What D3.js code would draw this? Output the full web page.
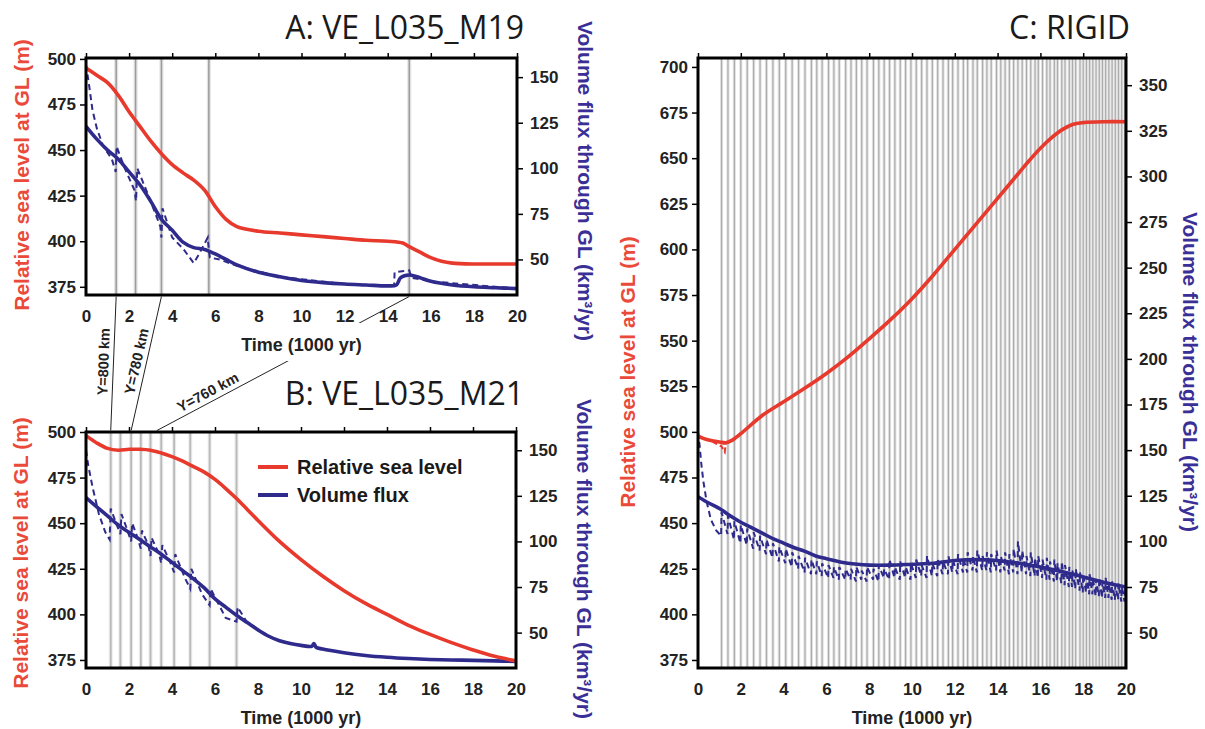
<!DOCTYPE html>
<html><head><meta charset="utf-8">
<script src="https://cdn.jsdelivr.net/npm/d3@7"></script>
<style>body{margin:0;background:#fff}</style>
</head><body>
<svg id="c" width="1205" height="729"></svg>
<script>
// ---------- axis ticks ----------
const xTicks = [0,2,4,6,8,10,12,14,16,18,20];
const seaTicksAB = [375,400,425,450,475,500];
const fluxTicksAB = [50,75,100,125,150];
const seaTicksC = [375,400,425,450,475,500,525,550,575,600,625,650,675,700];
const fluxTicksC = [50,75,100,125,150,175,200,225,250,275,300,325,350];
const fluxOffset = 340; // flux axis = sea-level axis - 340

// ---------- Panel A ----------
const timeAsea = [0,0.5,1,1.5,2,2.5,3,3.5,4,4.5,5,5.5,6,6.5,7,8,9,10,11,12,13,14,14.7,15,15.5,16,16.5,17,18,19,20];
const seaA = [495,491,487,480,471,463,455,448,442,437.5,433.5,428,419,412,408,405.5,404.5,403.5,402.5,401.5,400.5,400,399,397,394,391,389,388,387.5,387.5,387.5];
const timeAflux = [0,0.5,1,1.5,2,2.5,3,3.5,4,4.5,5,5.5,6,6.5,7,8,9,10,11,12,13,14,14.4,14.6,15,15.5,16,17,18,19,20];
const fluxA = [123,116,110,105,98,91,82,72,66,59.5,56.5,55.5,53,50,47,43,40.5,38.5,37.3,36.5,36,35.5,36,40,41.5,40,38,36,35,34.5,34];
const timeAdash = [0,0.15,0.3,0.5,0.8,1.2,1.38,1.42,1.8,2.25,2.32,2.38,2.9,3.45,3.5,3.55,4.0,4.5,5.0,5.2,5.65,5.7,5.75,6.2,7,9,12,14.2,14.3,14.32,15.0,15.1,16,20];
const fluxAdash = [157,145,132,122,112,105,98,112,100,88,82,100,85,68,62,78,62,56,48,52,62,55,51,50,46.5,40.5,36.5,35.5,36,43,44,40,38,34];
const glA = [1.4,2.3,3.5,5.7,15.0];

// ---------- Panel B ----------
const timeBsea = [0,0.5,1,1.5,2,2.5,3,3.5,4,4.5,5,5.5,6,6.5,7,7.5,8,9,10,11,12,13,14,15,16,17,18,19,20];
const seaB = [498,494,491,490,490.5,490.5,490,488.5,486.5,484,481,478,474,469,463.5,457.5,451.5,440,430,421,413,406,400,394,389,384.5,380.5,377,374.5];
const timeBflux = [0,0.5,1,1.5,2,2.5,3,3.5,4,4.5,5,5.5,6,6.5,7,7.5,8,8.5,9,9.5,10,10.5,10.6,10.7,11,12,13,14,15,16,17,18,19,20];
const fluxB = [124,119,114,109,105,101,97,93,88.5,84,79.5,74.5,68.5,64,59.5,55.5,51.5,48,45.5,44,43,42.5,44,42,41,39,37.5,36.5,35.8,35.3,35,34.8,34.5,34.2];
const timeBdash = [0,0.1,0.3,0.6,0.9,1.1,1.15,1.4,1.6,1.65,1.9,2.1,2.15,2.4,2.55,2.6,2.9,3.0,3.05,3.4,3.5,3.55,3.9,4.1,4.15,4.6,4.85,4.9,5.4,5.75,5.8,6.5,7.0,7.05,7.5,8];
const fluxBdash = [150,142,130,115,105,101,118,110,104,115,107,100,110,102,96,106,98,92,102,93,88,98,89,83,93,80,74,85,71,65,74,58,56,64,55.5,52];
const glB = [1.15,1.6,2.1,2.55,3.0,3.5,4.1,4.85,5.75,7.0];

// ---------- Panel C ----------
const timeCsea = [0,0.5,1,1.3,1.6,2,3,4,5,6,7,8,9,10,11,12,13,14,15,15.5,16,16.5,17,17.5,18,19,20];
const seaC = [497.5,495.5,494.5,494,495.5,499,509,516.5,524,532,541,551,561.5,573,586,600,614,628,642,649,655.5,661,665.5,668.5,669.5,670,670];
const timeCseaDash = [0,0.6,1.1,1.25,1.3,1.6,2];
const seaCdash = [498,495,492,489,494,495,499];
const timeCflux = [0,0.5,1,1.5,2,2.5,3,3.5,4,4.5,5,5.5,6,7,8,9,10,11,12,13,14,15,16,17,18,19,20];
const fluxC = [124.5,121,118,114,110.5,107.5,104.5,101.5,99,96.5,94.5,92,90.5,88,87,87,87.5,88,89.5,90,89.5,88,86,83.5,80.5,77.5,75];
const fluxCdash = [[0,160],[0.08,152],[0.15,143],[0.25,133],[0.4,122],[0.6,112],[0.85,106],[1.08,103],[1.1,116],[1.38,104],[1.4,114],[1.68,101],[1.7,111],[1.98,99],[2.0,109],[2.28,98],[2.3,107],[2.58,96],[2.6,105],[2.88,95],[2.9,103],[3.18,93],[3.2,101],[3.48,91],[3.5,99],[3.78,89],[3.8,97],[4.08,88],[4.1,96],[4.38,86],[4.4,94],[4.68,85],[4.7,92],[4.98,83],[5.0,91],[5.28,82],[5.3,90],[5.53,82],[5.55,89],[5.78,81],[5.8,88],[6.08,80],[6.1,87],[6.33,80],[6.35,86],[6.58,79],[6.6,86],[6.88,79],[6.9,85],[7.13,79],[7.15,85],[7.38,78],[7.4,86],[7.63,79],[7.65,84],[7.88,78],[7.9,86],[8.18,79],[8.2,85],[8.43,78],[8.45,87],[8.68,80],[8.7,85],[8.93,79],[8.95,90],[9.18,80],[9.2,86],[9.43,79],[9.45,89],[9.68,80],[9.7,86],[9.93,79],[9.95,88],[10.18,80],[10.2,90],[10.43,81],[10.45,87],[10.68,80],[10.7,92],[10.93,81],[10.95,88],[11.18,81],[11.2,90],[11.43,82],[11.45,89],[11.68,82],[11.7,92],[11.88,83],[11.9,90],[12.13,82],[12.15,93],[12.38,83],[12.4,91],[12.58,83],[12.6,94],[12.83,84],[12.85,92],[13.03,83],[13.05,95],[13.28,84],[13.3,92],[13.48,84],[13.5,94],[13.68,83],[13.7,93],[13.93,84],[13.95,95],[14.13,83],[14.15,92],[14.33,84],[14.35,94],[14.53,82],[14.55,93],[14.73,83],[14.75,96],[14.93,82],[14.95,100],[15.13,83],[15.15,95],[15.33,82],[15.35,92],[15.53,81],[15.55,94],[15.73,81],[15.75,91],[15.88,80],[15.9,92],[16.08,80],[16.1,90],[16.28,79],[16.3,91],[16.43,79],[16.45,89],[16.63,78],[16.65,90],[16.78,78],[16.8,88],[16.98,77],[17.0,89],[17.13,76],[17.15,87],[17.33,75],[17.35,86],[17.48,75],[17.5,84],[17.63,74],[17.65,85],[17.83,73],[17.85,83],[17.98,72],[18.0,82],[18.13,72],[18.15,81],[18.28,71],[18.3,82],[18.43,71],[18.45,80],[18.58,70],[18.6,79],[18.73,70],[18.75,80],[18.88,69],[18.9,78],[19.03,69],[19.05,80],[19.18,69],[19.2,77],[19.33,68],[19.35,78],[19.48,68],[19.5,76],[19.63,68],[19.65,77],[19.78,67],[19.8,75],[19.93,67],[19.95,76],[20,72]];
const glC = [1.1,1.4,1.7,2.0,2.3,2.6,2.9,3.2,3.5,3.8,4.1,4.4,4.7,5.0,5.3,5.55,5.8,6.1,6.35,6.6,6.9,7.15,7.4,7.65,7.9,8.2,8.45,8.7,8.95,9.2,9.45,9.7,9.95,10.2,10.45,10.7,10.95,11.2,11.45,11.7,11.9,12.15,12.4,12.6,12.85,13.05,13.3,13.5,13.7,13.95,14.15,14.35,14.55,14.75,14.95,15.15,15.35,15.55,15.75,15.9,16.1,16.3,16.45,16.65,16.8,17.0,17.15,17.35,17.5,17.65,17.85,18.0,18.15,18.3,18.45,18.6,18.75,18.9,19.05,19.2,19.35,19.5,19.65,19.8,19.95];

// ---------- annotations ----------
const legendLabels = ["Relative sea level","Volume flux"];
const connectorLabels = ["Y=800 km","Y=780 km","Y=760 km"];
const connectorTimeA = [1.4,3.5,15.0];
const connectorTimeB = [1.15,2.1,3.3];
const connectorFrac = [0.49,0.5,0.78];

// ---------- styles ----------
const RED = '#e8392d', BLUE = '#2f2b8c';
const RED_LABEL = '#ea4a3a', BLUE_LABEL = '#3a2f96';
const FONT = "'Liberation Sans', Arial, sans-serif";
const svg = d3.select('#c');

const panels = [
  {id:'A', x0:86, x1:517, y0:58, y1:295, seaDom:[370.5,500.5], seaTicks:seaTicksAB, fluxTicks:fluxTicksAB,
   title:'A: VE_L035_M19', titleX:524, titleY:39, leftLabelX:21, leftLabelY:175, rightLabelX:585, rightLabelY:181,
   gl:glA, glHalo:'#e2e2e2', glColor:'#9c9c9c', glW:1.5,
   sea:[timeAsea,seaA], flux:[timeAflux,fluxA], fluxDash:timeAdash.map((t,i)=>[t,fluxAdash[i]]), seaDash:null},
  {id:'B', x0:86, x1:516, y0:432, y1:668, seaDom:[370.6,500], seaTicks:seaTicksAB, fluxTicks:fluxTicksAB,
   title:'B: VE_L035_M21', titleX:524, titleY:405, leftLabelX:20, leftLabelY:553, rightLabelX:584, rightLabelY:559,
   gl:glB, glHalo:'#ececec', glColor:'#b9b9b9', glW:1.8,
   sea:[timeBsea,seaB], flux:[timeBflux,fluxB], fluxDash:timeBdash.map((t,i)=>[t,fluxBdash[i]]), seaDash:null},
  {id:'C', x0:698, x1:1126, y0:58, y1:668, seaDom:[370.6,704.9], seaTicks:seaTicksC, fluxTicks:fluxTicksC,
   title:'C: RIGID', titleX:1130, titleY:39, leftLabelX:627, leftLabelY:372, rightLabelX:1190, rightLabelY:372,
   gl:glC, glHalo:'#e4e4e4', glColor:'#ababab', glW:1.2,
   sea:[timeCsea,seaC], flux:[timeCflux,fluxC], fluxDash:fluxCdash, seaDash:timeCseaDash.map((t,i)=>[t,seaCdash[i]])}
];

const scales = {};

function styleAxis(s, size){
  s.select('.domain').remove();
  s.selectAll('line').attr('stroke','#000').attr('stroke-width',1.5);
  s.selectAll('text').attr('font-family',FONT).attr('font-size',size||17).attr('font-weight','bold').attr('fill','#222');
}

panels.forEach(p=>{
  const g = svg.append('g');
  const x = d3.scaleLinear().domain([0,20]).range([p.x0,p.x1]);
  const yL = d3.scaleLinear().domain(p.seaDom).range([p.y1,p.y0]);
  const yR = d3.scaleLinear().domain(p.seaDom.map(v=>v-fluxOffset)).range([p.y1,p.y0]);
  scales[p.id] = {x,yL,yR,p};

  const clipId = 'clip'+p.id;
  svg.append('clipPath').attr('id',clipId).append('rect')
    .attr('x',p.x0).attr('y',p.y0).attr('width',p.x1-p.x0).attr('height',p.y1-p.y0);
  const inner = g.append('g').attr('clip-path',`url(#${clipId})`);

  // grounding-line event lines
  inner.selectAll('line.halo').data(p.gl).join('line').attr('class','halo')
    .attr('x1',d=>x(d)).attr('x2',d=>x(d)).attr('y1',p.y0).attr('y2',p.y1)
    .attr('stroke',p.glHalo).attr('stroke-width',p.id==='C'?3.2:4);
  inner.selectAll('line.gl').data(p.gl).join('line').attr('class','gl')
    .attr('x1',d=>x(d)).attr('x2',d=>x(d)).attr('y1',p.y0).attr('y2',p.y1)
    .attr('stroke',p.glColor).attr('stroke-width',p.glW);

  // dashed raw series
  const lineDashF = d3.line().x(d=>x(d[0])).y(d=>yR(d[1]));
  inner.append('path').datum(p.fluxDash).attr('d',lineDashF)
    .attr('fill','none').attr('stroke',BLUE).attr('stroke-width',2).attr('stroke-dasharray','6,4');
  if(p.seaDash){
    const lineDashS = d3.line().x(d=>x(d[0])).y(d=>yL(d[1]));
    inner.append('path').datum(p.seaDash).attr('d',lineDashS)
      .attr('fill','none').attr('stroke',RED).attr('stroke-width',2).attr('stroke-dasharray','5,3');
  }
  // smoothed series
  const fluxPts = p.flux[0].map((t,i)=>[t,p.flux[1][i]]);
  const seaPts = p.sea[0].map((t,i)=>[t,p.sea[1][i]]);
  const smooth = d3.curveCatmullRom.alpha(0.5);
  inner.append('path').datum(fluxPts)
    .attr('d',d3.line().x(d=>x(d[0])).y(d=>yR(d[1])).curve(smooth))
    .attr('fill','none').attr('stroke',BLUE).attr('stroke-width',3.6).attr('stroke-linejoin','round');
  inner.append('path').datum(seaPts)
    .attr('d',d3.line().x(d=>x(d[0])).y(d=>yL(d[1])).curve(smooth))
    .attr('fill','none').attr('stroke',RED).attr('stroke-width',3.6).attr('stroke-linejoin','round');

  // axes
  g.append('g').attr('transform',`translate(${p.x0},0)`)
    .call(d3.axisLeft(yL).tickValues(p.seaTicks).tickSize(6).tickPadding(4)).call(s=>styleAxis(s));
  g.append('g').attr('transform',`translate(${p.x1},0)`)
    .call(d3.axisRight(yR).tickValues(p.fluxTicks).tickSize(6).tickPadding(7)).call(s=>styleAxis(s));
  g.append('g').attr('transform',`translate(0,${p.y1})`)
    .call(d3.axisBottom(x).tickValues(xTicks).tickSize(0).tickPadding(15)).call(s=>styleAxis(s));
  g.append('g').attr('transform',`translate(0,${p.y0})`)
    .call(d3.axisTop(x).tickValues(xTicks).tickSize(5).tickFormat('')).call(s=>styleAxis(s));

  // frame
  g.append('rect').attr('x',p.x0).attr('y',p.y0).attr('width',p.x1-p.x0).attr('height',p.y1-p.y0)
    .attr('fill','none').attr('stroke','#000').attr('stroke-width',3);

  // title
  g.append('text').attr('x',p.titleX).attr('y',p.titleY).attr('text-anchor','end')
    .attr('font-family',"'Open Sans', sans-serif").attr('font-size',32).attr('fill','#1a1a1a').text(p.title);

  // axis labels
  g.append('text').attr('transform',`translate(${p.leftLabelX},${p.leftLabelY}) rotate(-90)`)
    .attr('text-anchor','middle').attr('dominant-baseline','central')
    .attr('font-family',FONT).attr('font-size',21).attr('font-weight','bold').attr('fill',RED_LABEL)
    .text('Relative sea level at GL (m)');
  g.append('text').attr('transform',`translate(${p.rightLabelX},${p.rightLabelY}) rotate(90)`)
    .attr('text-anchor','middle').attr('dominant-baseline','central')
    .attr('font-family',FONT).attr('font-size',21).attr('font-weight','bold').attr('fill',BLUE_LABEL)
    .text('Volume flux through GL (km³/yr)');
});

// ---------- connectors between A and B ----------
const sA = scales.A, sB = scales.B;
const conG = svg.append('g');
connectorLabels.forEach((lab,i)=>{
  const P = [sA.x(connectorTimeA[i]), sA.p.y1+1.5];
  const Q = [sB.x(connectorTimeB[i]), sB.p.y0-1.5];
  conG.append('line').attr('x1',P[0]).attr('y1',P[1]).attr('x2',Q[0]).attr('y2',Q[1])
    .attr('stroke','#222').attr('stroke-width',1);
  const f = connectorFrac[i];
  const cx = P[0]+(Q[0]-P[0])*f, cy = P[1]+(Q[1]-P[1])*f;
  const ang = Math.atan2(P[1]-Q[1], P[0]-Q[0])*180/Math.PI;
  conG.append('text').attr('transform',`translate(${cx},${cy}) rotate(${ang})`)
    .attr('text-anchor','middle').attr('dy',-5)
    .attr('font-family',FONT).attr('font-size',14.5).attr('font-weight','bold').attr('fill','#222').text(lab);
});

// ---------- x-axis titles (white box hides connectors) ----------
panels.forEach(p=>{
  const cx = (p.x0+p.x1)/2, cy = p.y1+50;
  if(p.id==='A'){
    svg.append('rect').attr('x',cx-68).attr('y',cy-22).attr('width',136).attr('height',38).attr('fill','#fff');
  }
  svg.append('text').attr('x',cx).attr('y',cy).attr('text-anchor','middle').attr('dominant-baseline','central')
    .attr('font-family',FONT).attr('font-size',18).attr('font-weight','bold').attr('fill','#222').text('Time (1000 yr)');
});

// ---------- legend in B ----------
const legColors = [RED, BLUE];
const legG = svg.append('g');
legendLabels.forEach((lab,i)=>{
  const y = 467 + i*28;
  legG.append('line').attr('x1',258).attr('x2',288).attr('y1',y).attr('y2',y)
    .attr('stroke',legColors[i]).attr('stroke-width',4);
  legG.append('text').attr('x',297).attr('y',y).attr('dominant-baseline','central')
    .attr('font-family',FONT).attr('font-size',20).attr('font-weight','bold').attr('fill','#1a1a1a').text(lab);
});
</script>
</body></html>
